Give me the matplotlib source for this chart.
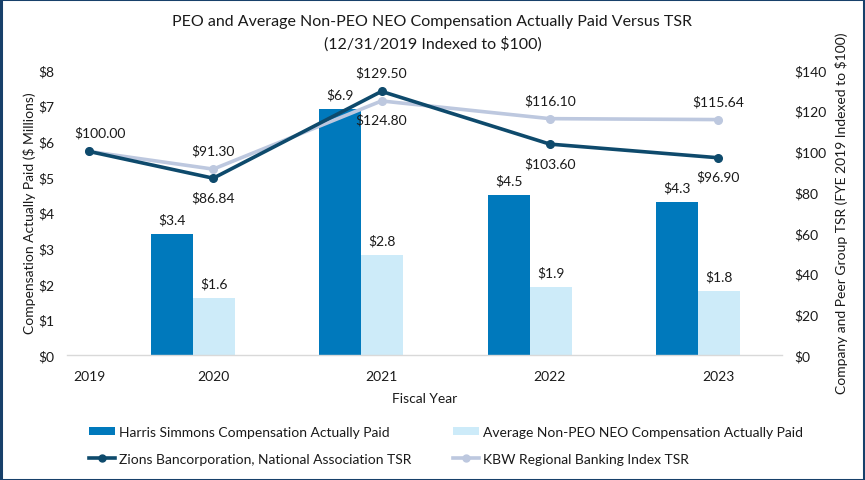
import matplotlib
matplotlib.use('Agg')
import matplotlib.pyplot as plt
from matplotlib.lines import Line2D
from matplotlib.patches import Patch, Rectangle

# ---- data ----
years = ['2019', '2020', '2021', '2022', '2023']
bar_years = ['2020', '2021', '2022', '2023']
peo_cap = [3.4, 6.9, 4.5, 4.3]          # $ millions
neo_cap = [1.6, 2.8, 1.9, 1.8]          # $ millions
zions_tsr = [100.00, 86.84, 129.50, 103.60, 96.90]
kbw_tsr = [100.00, 91.30, 124.80, 116.10, 115.64]
left_ticks = [0, 1, 2, 3, 4, 5, 6, 7, 8]
right_ticks = [0, 20, 40, 60, 80, 100, 120, 140]

FONT = ['Lato', 'DejaVu Sans']
plt.rcParams['font.family'] = FONT

C_PEO = '#0079BC'
C_NEO = '#CDEBF9'
C_ZION = '#0E4A6C'
C_KBW = '#BDC8DF'
C_TXT = '#1a1a1a'

fig = plt.figure(figsize=(8.65, 4.81), dpi=100)
rect = [67/865, 1-356/481, (782-67)/865, (356-71)/481]
ax = fig.add_axes(rect)
ax2 = fig.add_axes(rect, label='tsr')
ax2.patch.set_visible(False)

XLIM = (0.251, 4.50)

# positions (category units; bar groups at 1..4)
group_x = [i + 1 for i in range(len(bar_years))]
bw = 0.25
line_x = [0.382] + [g + 0.12 for g in group_x]

ax.bar([g - bw/2 for g in group_x], peo_cap, width=bw, color=C_PEO, zorder=2)
ax.bar([g + bw/2 for g in group_x], neo_cap, width=bw, color=C_NEO, zorder=2)

fs = 10
for g, v in zip(group_x, peo_cap):
    ax.annotate(f'${v:.1f}', (g - bw/2, v), xytext=(0, 10.5), textcoords='offset points',
                ha='center', va='center', fontsize=fs, color=C_TXT)
for g, v in zip(group_x, neo_cap):
    ax.annotate(f'${v:.1f}', (g + bw/2, v), xytext=(0, 10.5), textcoords='offset points',
                ha='center', va='center', fontsize=fs, color=C_TXT)

ax2.plot(line_x, kbw_tsr, color=C_KBW, lw=2.6, marker='o', ms=5.5, zorder=3)
ax2.plot(line_x, zions_tsr, color=C_ZION, lw=2.6, marker='o', ms=5.5, zorder=4)

for i, (x, z, k) in enumerate(zip(line_x, zions_tsr, kbw_tsr)):
    if i == 0:
        ax2.annotate(f'${z:.2f}', (x, z), xytext=(8, 14), textcoords='offset points',
                     ha='center', va='center', fontsize=fs, color=C_TXT)
        continue
    z_dir = 1 if z > k else -1
    ax2.annotate(f'${z:.2f}', (x, z), xytext=(0, 13.5 * z_dir), textcoords='offset points',
                 ha='center', va='center', fontsize=fs, color=C_TXT)
    ax2.annotate(f'${k:.2f}', (x, k), xytext=(0, -13.5 * z_dir), textcoords='offset points',
                 ha='center', va='center', fontsize=fs, color=C_TXT)

ax.set_xlim(*XLIM)
ax2.set_xlim(*XLIM)
ax.set_ylim(0, 8)
ax2.set_ylim(0, 140)
ax.set_yticks(left_ticks)
ax.set_yticklabels([f'${t}' for t in left_ticks], fontsize=fs, color=C_TXT)
ax2.yaxis.tick_right()
ax2.yaxis.set_label_position('right')
ax2.set_yticks(right_ticks)
ax2.set_yticklabels([f'${t}' for t in right_ticks], fontsize=fs, color=C_TXT)
ax2.set_xticks([])
ax.set_xticks(line_x)
ax.set_xticklabels(years, fontsize=fs, color=C_TXT)
ax.tick_params(axis='both', length=0)
ax2.tick_params(axis='both', length=0)
ax.tick_params(axis='x', pad=11)
ax.tick_params(axis='y', pad=9)
ax2.tick_params(axis='y', pad=9)

for s in ('top', 'left', 'right'):
    ax.spines[s].set_visible(False)
for s in ('top', 'left', 'right', 'bottom'):
    ax2.spines[s].set_visible(False)
ax.spines['bottom'].set_color('#D9D9D9')
ax.spines['bottom'].set_linewidth(1)

ax.set_xlabel('Fiscal Year', fontsize=fs, color=C_TXT, labelpad=7)
ax.set_ylabel('Compensation Actually Paid ($ Millions)', fontsize=fs, color=C_TXT, labelpad=2)
ax2.set_ylabel('Company and Peer Group TSR (FYE 2019 Indexed to $100)', fontsize=fs,
               color=C_TXT, labelpad=6, rotation=90)

fig.text(0.5, 1 - 22/481, 'PEO and Average Non-PEO NEO Compensation Actually Paid Versus TSR',
         ha='center', va='center', fontsize=11.5, color=C_TXT)
fig.text(0.5, 1 - 44/481, '(12/31/2019 Indexed to $100)',
         ha='center', va='center', fontsize=11.5, color=C_TXT)

handles = [
    Patch(facecolor=C_PEO, edgecolor='none', label='Harris Simmons Compensation Actually Paid'),
    Line2D([], [], color=C_ZION, lw=2.6, marker='o', ms=5, label='Zions Bancorporation, National Association TSR'),
    Patch(facecolor=C_NEO, edgecolor='none', label='Average Non-PEO NEO Compensation Actually Paid'),
    Line2D([], [], color=C_KBW, lw=2.6, marker='o', ms=5, label='KBW Regional Banking Index TSR'),
]
fig.legend(handles=handles, ncol=2, loc='upper left', bbox_to_anchor=(89/865, 1 - 427/481),
           frameon=False, fontsize=fs, handlelength=1.9, handleheight=0.55, handletextpad=0.25,
           columnspacing=3.0, labelspacing=1.05, borderpad=0, borderaxespad=0,
           labelcolor=C_TXT)

fig.patches.append(Rectangle((0.001, 0.001), 0.998, 0.998, transform=fig.transFigure,
                             fill=False, edgecolor='#17406A', linewidth=2.2))

fig.savefig('out.png', dpi=100)
